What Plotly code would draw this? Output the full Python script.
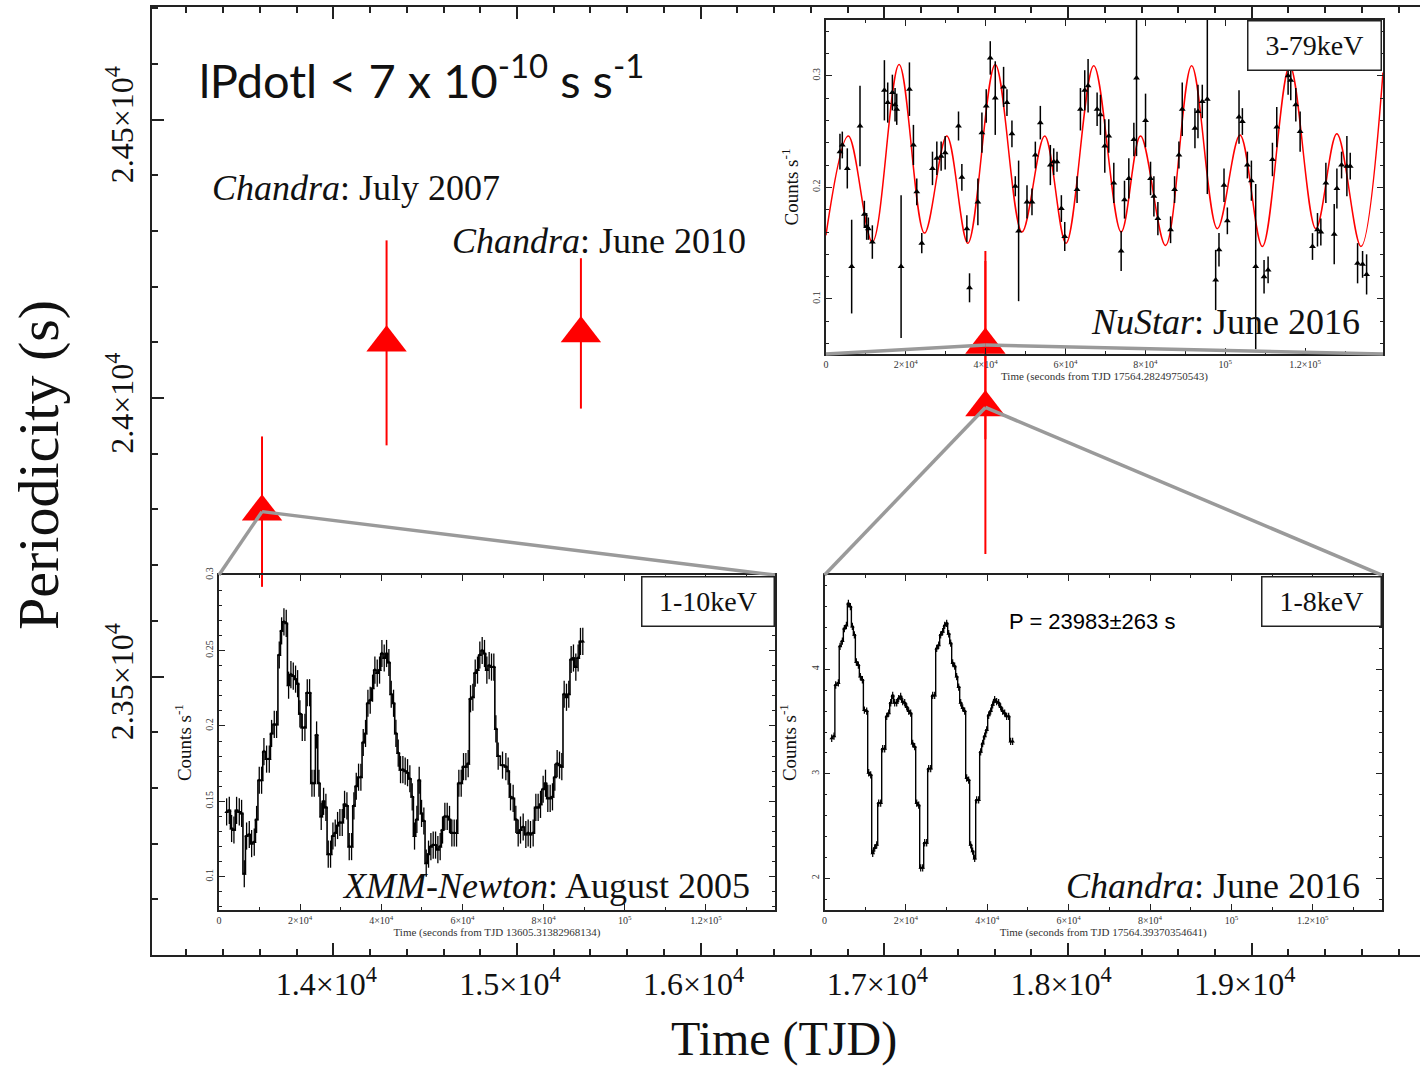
import plotly.graph_objects as go

# ---------------- main panel: pulse period vs. time ----------------
obs_tjd = [13612, 14290, 15348, 17550, 17550]
obs_period = [23796, 24099, 24116, 24095, 23983]
obs_err = [135, 184, 135, 169, 263]

X_RANGE = [13013, 19916]
Y_RANGE = [23000, 24702]
x_tickvals = [14000, 15000, 16000, 17000, 18000, 19000]
x_ticktext = ["1.4×10<sup>4</sup>", "1.5×10<sup>4</sup>", "1.6×10<sup>4</sup>",
              "1.7×10<sup>4</sup>", "1.8×10<sup>4</sup>", "1.9×10<sup>4</sup>"]
y_tickvals = [23500, 24000, 24500]
y_ticktext = ["2.35×10<sup>4</sup>", "2.4×10<sup>4</sup>", "2.45×10<sup>4</sup>"]

# ---------------- XMM-Newton light curve (Aug 2005, 1-10 keV) ----------------
xmm_t = [1890, 2550, 3120, 3690, 4350, 5010, 5580, 6240, 6810, 7470,
         8050, 8700, 9280, 9930, 10510, 11080, 11740, 12400, 12970, 13630,
         14200, 14860, 15440, 16010, 16580, 17160, 17730, 18310, 18880, 19380,
         19950, 20530, 21180, 21760, 22330, 22910, 23480, 24060, 24630, 25200,
         25780, 26350, 26930, 27500, 28080, 28650, 29230, 29800, 30380, 30950,
         31530, 32100, 32680, 33250, 33830, 34400, 34970, 35550, 36120, 36700,
         37270, 37850, 38420, 39000, 39570, 40150, 40720, 41300, 41870, 42450,
         43020, 43600, 44170, 44740, 45320, 45890, 46470, 47040, 47620, 48190,
         48770, 49340, 49920, 50490, 51070, 51640, 52220, 52790, 53370, 53940,
         54510, 55090, 55660, 56240, 56810, 57390, 57960, 58540, 59110, 59690,
         60260, 60840, 61410, 61990, 62560, 63140, 63710, 64280, 64860, 65430,
         66010, 66580, 67160, 67730, 68230, 68800, 69870, 70690, 71260, 71840,
         72490, 73150, 73730, 74300, 74960, 75610, 76190, 76760, 77420, 78080,
         78650, 79230, 79880, 80460, 81030, 81610, 82180, 82760, 83330, 83910,
         84480, 85060, 85630, 86200, 86780, 87350, 87930, 88500, 89080, 89650]
xmm_rate = [0.143, 0.144, 0.132, 0.131, 0.144, 0.143, 0.142, 0.102, 0.127, 0.128,
            0.122, 0.123, 0.138, 0.164, 0.164, 0.183, 0.178, 0.178, 0.195, 0.201,
            0.201, 0.247, 0.263, 0.269, 0.268, 0.227, 0.234, 0.233, 0.231, 0.228,
            0.208, 0.199, 0.199, 0.222, 0.222, 0.162, 0.162, 0.194, 0.162, 0.140,
            0.150, 0.146, 0.115, 0.115, 0.127, 0.129, 0.134, 0.136, 0.136, 0.148,
            0.147, 0.120, 0.120, 0.147, 0.160, 0.166, 0.166, 0.189, 0.195, 0.215,
            0.217, 0.225, 0.237, 0.235, 0.237, 0.248, 0.245, 0.248, 0.242, 0.221,
            0.215, 0.195, 0.182, 0.171, 0.171, 0.170, 0.169, 0.165, 0.153, 0.127,
            0.138, 0.164, 0.142, 0.137, 0.109, 0.115, 0.120, 0.121, 0.121, 0.118,
            0.120, 0.131, 0.140, 0.140, 0.138, 0.129, 0.129, 0.129, 0.162, 0.162,
            0.173, 0.173, 0.175, 0.218, 0.219, 0.235, 0.237, 0.247, 0.250, 0.248,
            0.237, 0.240, 0.239, 0.239, 0.198, 0.180, 0.174, 0.173, 0.170, 0.153,
            0.152, 0.138, 0.129, 0.131, 0.133, 0.128, 0.129, 0.128, 0.129, 0.146,
            0.146, 0.148, 0.158, 0.162, 0.152, 0.152, 0.153, 0.166, 0.175, 0.174,
            0.173, 0.221, 0.219, 0.221, 0.244, 0.245, 0.239, 0.245, 0.256, 0.256]
xmm_err = 0.009

# ---------------- Chandra light curve (Jun 2016, 1-8 keV) ----------------
chandra_t = [1760, 2330, 2740, 3400, 3810, 4380, 4870, 5370, 5860, 6350,
             6840, 7330, 7820, 8310, 8800, 9300, 9790, 10360, 10850, 11340,
             11840, 12330, 12820, 13310, 13800, 14290, 14780, 15280, 15770, 16260,
             16750, 17240, 17730, 18220, 18710, 19210, 19700, 20190, 20680, 21170,
             21660, 22150, 22650, 23140, 23630, 24120, 24610, 25100, 25590, 26090,
             26580, 27070, 27560, 28050, 28540, 29030, 29530, 30020, 30510, 31000,
             31490, 31980, 32470, 32970, 33460, 33950, 34440, 34930, 35420, 35910,
             36400, 36900, 37390, 37880, 38370, 38860, 39350, 39850, 40340, 40830,
             41320, 41810, 42300, 42790, 43280, 43780, 44270, 44760, 45250, 45740,
             46230]
chandra_rate = [3.34, 3.36, 3.85, 3.87, 4.22, 4.27, 4.39, 4.42, 4.63, 4.60,
                4.41, 4.33, 4.07, 4.04, 3.93, 3.90, 3.61, 3.60, 3.01, 2.99,
                2.24, 2.29, 2.32, 2.72, 2.72, 3.24, 3.24, 3.55, 3.58, 3.68,
                3.75, 3.68, 3.68, 3.72, 3.74, 3.69, 3.68, 3.64, 3.60, 3.58,
                3.29, 3.26, 2.72, 2.70, 2.10, 2.10, 2.34, 2.34, 3.05, 3.05,
                3.75, 3.75, 4.20, 4.23, 4.33, 4.36, 4.42, 4.44, 4.34, 4.25,
                4.06, 4.03, 3.93, 3.83, 3.68, 3.63, 3.60, 2.96, 2.94, 2.32,
                2.26, 2.19, 2.75, 2.75, 3.21, 3.29, 3.36, 3.42, 3.56, 3.60,
                3.66, 3.71, 3.69, 3.68, 3.64, 3.60, 3.58, 3.55, 3.55, 3.31,
                3.31]
chandra_err = 0.035

# ---------------- NuSTAR light curve (Jun 2016, 3-79 keV) ----------------
nustar_t = [3510, 4100, 5350, 6440, 8530, 9620, 10200, 10620, 11620, 14640,
            15470, 16640, 17310, 17730, 18820, 20910, 21910, 22750, 24000, 26680,
            27770, 28850, 29860, 33200, 34040, 35290, 35960, 38050, 39060, 40140,
            41150, 42400, 44490, 45330, 46580, 47420, 48250, 50350, 51600, 52440,
            53690, 56200, 57040, 57870, 58960, 59800, 62890, 63730, 64810, 65650,
            67910, 68740, 69830, 70830, 72090, 73930, 74770, 75850, 77110, 77780,
            80040, 81290, 82130, 83130, 86310, 87310, 88400, 89230, 92410, 93170,
            94250, 95510, 97600, 98430, 99690, 100530, 103450, 104290, 105540, 106550,
            107630, 109720, 110730, 111820, 112900, 115740, 116410, 117670, 118750, 121850,
            123100, 123940, 125200, 127290, 127960, 129130, 130460, 131300, 133140, 134390,
            135400]
nustar_rate = [0.232, 0.238, 0.217, 0.129, 0.255, 0.176, 0.165, 0.163, 0.151, 0.287,
               0.276, 0.285, 0.274, 0.270, 0.129, 0.288, 0.238, 0.196, 0.150, 0.217,
               0.226, 0.228, 0.231, 0.255, 0.209, 0.163, 0.110, 0.187, 0.249, 0.273,
               0.316, 0.280, 0.290, 0.276, 0.248, 0.201, 0.161, 0.187, 0.187, 0.229,
               0.258, 0.220, 0.223, 0.223, 0.181, 0.156, 0.198, 0.270, 0.287, 0.291,
               0.270, 0.265, 0.237, 0.246, 0.204, 0.143, 0.189, 0.208, 0.243, 0.298,
               0.260, 0.208, 0.192, 0.172, 0.162, 0.198, 0.229, 0.270, 0.253, 0.268,
               0.277, 0.279, 0.117, 0.144, 0.202, 0.170, 0.263, 0.259, 0.220, 0.206,
               0.129, 0.120, 0.126, 0.225, 0.254, 0.300, 0.296, 0.274, 0.250, 0.147,
               0.162, 0.160, 0.204, 0.158, 0.199, 0.220, 0.219, 0.219, 0.132, 0.131,
               0.122]
nustar_err = [0.016, 0.012, 0.018, 0.042, 0.036, 0.012, 0.012, 0.010, 0.015, 0.027,
              0.018, 0.016, 0.015, 0.014, 0.064, 0.024, 0.018, 0.012, 0.009, 0.015,
              0.015, 0.013, 0.015, 0.013, 0.012, 0.012, 0.013, 0.021, 0.018, 0.015,
              0.015, 0.033, 0.018, 0.012, 0.012, 0.009, 0.063, 0.015, 0.012, 0.012,
              0.015, 0.018, 0.012, 0.009, 0.012, 0.013, 0.012, 0.019, 0.018, 0.024,
              0.015, 0.018, 0.024, 0.015, 0.018, 0.018, 0.017, 0.018, 0.015, 0.070,
              0.024, 0.015, 0.018, 0.015, 0.012, 0.012, 0.012, 0.024, 0.018, 0.024,
              0.015, 0.085, 0.027, 0.015, 0.015, 0.012, 0.024, 0.012, 0.012, 0.018,
              0.074, 0.015, 0.012, 0.015, 0.018, 0.017, 0.018, 0.015, 0.018, 0.012,
              0.015, 0.012, 0.018, 0.027, 0.018, 0.012, 0.027, 0.012, 0.018, 0.012,
              0.018]

# two-harmonic pulse model: extrema of the fitted curve
model_t = [0, 5600, 11620, 18320, 24670, 30270, 35540, 42400, 49090, 54780,
           60130, 67070, 73930, 78780, 85050, 91580, 98020, 103700, 109300, 116160,
           122690, 127950, 133980, 139500]
model_rate = [0.157, 0.246, 0.151, 0.310, 0.159, 0.246, 0.150, 0.310, 0.160, 0.246,
              0.150, 0.309, 0.160, 0.246, 0.148, 0.309, 0.163, 0.247, 0.147, 0.309,
              0.163, 0.248, 0.147, 0.303]

inset_tickvals = [0, 20000, 40000, 60000, 80000, 100000, 120000]
inset_ticktext = ["0", "2×10<sup>4</sup>", "4×10<sup>4</sup>", "6×10<sup>4</sup>",
                  "8×10<sup>4</sup>", "10<sup>5</sup>", "1.2×10<sup>5</sup>"]

SERIF = "Liberation Serif"
AXIS_COLOR = "#222222"

# inset panel domains (paper fractions of the main plotting area)
XMM_DOM = ([0.0528, 0.4913], [0.0475, 0.4008])
CHA_DOM = ([0.5304, 0.9700], [0.0475, 0.4008])
NUS_DOM = ([0.5315, 0.9708], [0.6340, 0.9863])

fig = go.Figure()

# period measurements
fig.add_trace(go.Scatter(
    x=obs_tjd, y=obs_period, mode="markers", xaxis="x", yaxis="y",
    marker=dict(symbol="triangle-up", size=35, color="#ff0000", line=dict(width=0)),
    error_y=dict(type="data", array=obs_err, color="#ff0000", thickness=2, width=0),
    showlegend=False, cliponaxis=False))

# XMM-Newton light curve
fig.add_trace(go.Scatter(
    x=xmm_t, y=xmm_rate, mode="lines+markers", xaxis="x2", yaxis="y2",
    line=dict(color="black", width=1.6, shape="hvh"),
    marker=dict(symbol="triangle-up", size=4, color="black"),
    error_y=dict(type="constant", value=xmm_err, color="black", thickness=1.3, width=0),
    showlegend=False))

# Chandra 2016 light curve
fig.add_trace(go.Scatter(
    x=chandra_t, y=chandra_rate, mode="lines+markers", xaxis="x3", yaxis="y3",
    line=dict(color="black", width=1.4, shape="hvh"),
    marker=dict(symbol="triangle-up", size=4, color="black"),
    error_y=dict(type="constant", value=chandra_err, color="black", thickness=1.2, width=0),
    showlegend=False))

# NuSTAR model and data
fig.add_trace(go.Scatter(
    x=model_t, y=model_rate, mode="lines", xaxis="x4", yaxis="y4",
    line=dict(color="#ff0000", width=1.5, shape="spline", smoothing=1.0),
    showlegend=False))
fig.add_trace(go.Scatter(
    x=nustar_t, y=nustar_rate, mode="markers", xaxis="x4", yaxis="y4",
    marker=dict(symbol="triangle-up", size=6, color="black"),
    error_y=dict(type="data", array=nustar_err, color="black", thickness=1.5, width=0),
    showlegend=False))


def inset_xaxis(domain, anchor, title, rng):
    return dict(domain=domain, anchor=anchor, range=rng, showgrid=False, zeroline=False,
                showline=True, mirror="allticks", linecolor=AXIS_COLOR, linewidth=1.5,
                ticks="inside", ticklen=6, tickwidth=1, tickcolor=AXIS_COLOR,
                tickmode="array", tickvals=inset_tickvals, ticktext=inset_ticktext,
                minor=dict(ticks="inside", ticklen=3, tickmode="linear", tick0=0, dtick=10000,
                           tickcolor=AXIS_COLOR),
                tickfont=dict(family=SERIF, size=10, color="#333333"),
                title=dict(text=title, font=dict(family=SERIF, size=11, color="#333333"),
                           standoff=1))


def inset_yaxis(domain, anchor, rng, tickvals, ticktext, minor_dtick):
    return dict(domain=domain, anchor=anchor, range=rng, showgrid=False, zeroline=False,
                showline=True, mirror="allticks", linecolor=AXIS_COLOR, linewidth=1.5,
                ticks="inside", ticklen=6, tickwidth=1, tickcolor=AXIS_COLOR,
                tickmode="array", tickvals=tickvals, ticktext=ticktext, tickangle=-90,
                minor=dict(ticks="inside", ticklen=3, tickmode="linear", tick0=0,
                           dtick=minor_dtick, tickcolor=AXIS_COLOR),
                tickfont=dict(family=SERIF, size=10, color="#333333"),
                title=dict(text="Counts s<sup>-1</sup>",
                           font=dict(family=SERIF, size=19, color="#111111"), standoff=8))


fig.update_layout(
    width=1420, height=1069,
    margin=dict(l=152, r=0, t=7, b=114),
    paper_bgcolor="white", plot_bgcolor="rgba(0,0,0,0)",
    showlegend=False,
    xaxis=dict(domain=[0, 1], anchor="y", range=X_RANGE, showgrid=False, zeroline=False,
               showline=True, mirror="allticks", linecolor=AXIS_COLOR, linewidth=2,
               ticks="inside", ticklen=12, tickwidth=1.5, tickcolor=AXIS_COLOR,
               tickmode="array", tickvals=x_tickvals, ticktext=x_ticktext,
               minor=dict(ticks="inside", ticklen=6, tickmode="linear", tick0=13000,
                          dtick=200, tickcolor=AXIS_COLOR),
               tickfont=dict(family=SERIF, size=32, color="#111111"),
               ticklabelshift=-7),
    yaxis=dict(domain=[0, 1], anchor="x", range=Y_RANGE, showgrid=False, zeroline=False,
               showline=True, mirror=False, linecolor=AXIS_COLOR, linewidth=2,
               ticks="inside", ticklen=12, tickwidth=1.5, tickcolor=AXIS_COLOR,
               tickmode="array", tickvals=y_tickvals, ticktext=y_ticktext, tickangle=-90,
               minor=dict(ticks="inside", ticklen=6, tickmode="linear", tick0=23000,
                          dtick=100, tickcolor=AXIS_COLOR),
               tickfont=dict(family=SERIF, size=32, color="#111111"),
               ticklabelshift=10, ticklabelstandoff=4),
    xaxis2=inset_xaxis(XMM_DOM[0], "y2", "Time (seconds from TJD 13605.31382968134)", [0, 137000]),
    yaxis2=inset_yaxis(XMM_DOM[1], "x2", [0.078, 0.3], [0.1, 0.15, 0.2, 0.25, 0.3],
                       ["0.1", "0.15", "0.2", "0.25", "0.3"], 0.01),
    xaxis3=inset_xaxis(CHA_DOM[0], "y3", "Time (seconds from TJD 17564.39370354641)", [0, 137000]),
    yaxis3=inset_yaxis(CHA_DOM[1], "x3", [1.697, 4.902], [2, 3, 4], ["2", "3", "4"], 0.2),
    xaxis4=inset_xaxis(NUS_DOM[0], "y4", "Time (seconds from TJD 17564.28249750543)", [0, 139500]),
    yaxis4=inset_yaxis(NUS_DOM[1], "x4", [0.0507, 0.350], [0.1, 0.2, 0.3],
                       ["0.1", "0.2", "0.3"], 0.02),
)


def px(v):
    return (v - X_RANGE[0]) / (X_RANGE[1] - X_RANGE[0])


def py(v):
    return (v - Y_RANGE[0]) / (Y_RANGE[1] - Y_RANGE[0])


# zoom connectors from each measurement to its light-curve panel
connectors = [
    (obs_tjd[0], obs_period[0], XMM_DOM[0][0], XMM_DOM[1][1]),
    (obs_tjd[0], obs_period[0], XMM_DOM[0][1], XMM_DOM[1][1]),
    (obs_tjd[4], obs_period[4], CHA_DOM[0][0], CHA_DOM[1][1]),
    (obs_tjd[4], obs_period[4], CHA_DOM[0][1], CHA_DOM[1][1]),
    (obs_tjd[3], obs_period[3], NUS_DOM[0][0], NUS_DOM[1][0]),
    (obs_tjd[3], obs_period[3], NUS_DOM[0][1], NUS_DOM[1][0]),
]
shapes = []
for t, p, cx, cy in connectors:
    shapes.append(dict(type="line", xref="paper", yref="paper", x0=px(t), y0=py(p), x1=cx, y1=cy,
                       line=dict(color="#9a9a9a", width=3.5), layer="above"))
fig.update_layout(shapes=shapes)


def ann(text, x, y, size, xanchor="left", family=SERIF, color="#111111", **kw):
    fig.add_annotation(text=text, x=x, y=y, xref="paper", yref="paper", xanchor=xanchor,
                       yanchor="middle", showarrow=False,
                       font=dict(family=family, size=size, color=color), **kw)


ann("lPdotl &lt; 7 x 10<sup>-10</sup> s s<sup>-1</sup>", 0.0355, 0.926, 47, family="Lato")
ann("<i>Chandra</i>: July 2007", 0.0457, 0.809, 36)
ann("<i>Chandra</i>: June 2010", 0.235, 0.753, 36)
ann("<i>XMM-Newton</i>: August 2005", 0.4732, 0.0728, 36, xanchor="right")
ann("<i>Chandra</i>: June 2016", 0.9543, 0.0728, 36, xanchor="right")
ann("<i>NuStar</i>: June 2016", 0.9543, 0.6677, 36, xanchor="right")
ann("P = 23983±263 s", 0.6743, 0.3513, 22, family="Liberation Sans", color="#000000")

# energy-band boxes
for label, cx, cy, w in [("3-79keV", 0.9168, 0.9589, 132),
                         ("1-10keV", 0.4385, 0.3734, 131),
                         ("1-8keV", 0.9223, 0.3734, 118)]:
    fig.add_annotation(text=label, x=cx, y=cy, xref="paper", yref="paper",
                       xanchor="center", yanchor="middle", showarrow=False,
                       width=w, height=48, borderpad=0, bordercolor=AXIS_COLOR,
                       borderwidth=1.5, bgcolor="white",
                       font=dict(family=SERIF, size=28, color="#111111"))

# axis titles
ann("Time (TJD)", 0.4984, -0.089, 48, xanchor="center")
ann("Periodicity (s)", -0.089, 0.517, 58, xanchor="center", textangle=-90)

fig.write_html("out.html")
